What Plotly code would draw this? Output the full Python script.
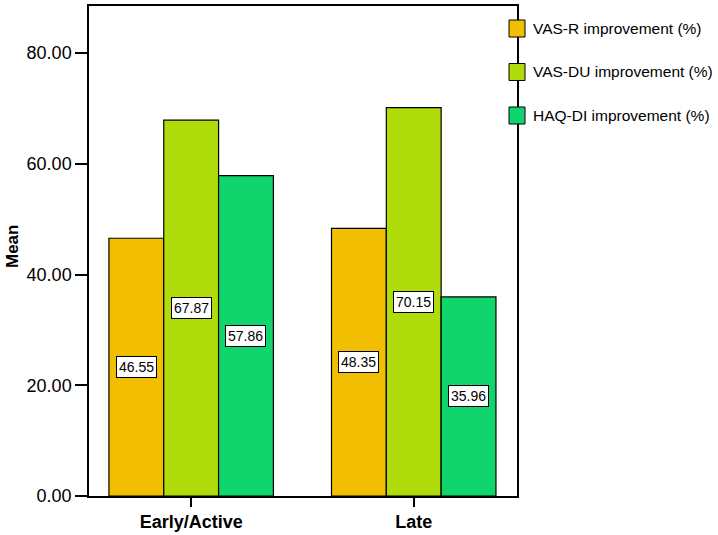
import plotly.graph_objects as go

categories = ["Early/Active", "Late"]
series_names = ["VAS-R improvement (%)", "VAS-DU improvement (%)", "HAQ-DI improvement (%)"]
vas_r = [46.55, 48.35]
vas_du = [67.87, 70.15]
haq_di = [57.86, 35.96]
series_values = [vas_r, vas_du, haq_di]
colors = ["#F1BE02", "#B1DC0B", "#10D46C"]
y_ticks = [0, 20, 40, 60, 80]

FONT = "Arial, Liberation Sans, sans-serif"
fig = go.Figure()
for name, vals, col in zip(series_names, series_values, colors):
    fig.add_trace(go.Bar(
        x=categories, y=vals, name=name,
        marker=dict(color=col, line=dict(color="black", width=1.2)),
        showlegend=False,
    ))

# layout numbers
x_range = [-0.459, 1.464]
plot_w_px = 718 - 89 - 201
plot_h_px = 490
px_per_unit = plot_w_px / (x_range[1] - x_range[0])
bargap = 0.261
bar_w_units = (1 - bargap) / len(series_names)

annotations = []
for i, vals in enumerate(series_values):
    shift = (i - 1) * bar_w_units * px_per_unit
    for c, v in zip(categories, vals):
        annotations.append(dict(
            x=c, y=v / 2, xref="x", yref="y", text=f"{v:.2f}", showarrow=False,
            xshift=shift, font=dict(family=FONT, size=14, color="black"),
            bgcolor="white", bordercolor="black", borderwidth=1, borderpad=2,
        ))

# custom legend
shapes = []
leg_y0 = 1 - (28.5 - 6) / plot_h_px
leg_step = 43.5 / plot_h_px
for i, (name, col) in enumerate(zip(series_names, colors)):
    yc = leg_y0 - i * leg_step
    shapes.append(dict(
        type="rect", xref="paper", yref="paper", layer="above",
        x0=1 - 8 / plot_w_px, x1=1 + 8 / plot_w_px,
        y0=yc - 8.5 / plot_h_px, y1=yc + 8.5 / plot_h_px,
        fillcolor=col, line=dict(color="black", width=1),
    ))
    annotations.append(dict(
        xref="paper", yref="paper", x=1 + 14 / plot_w_px, y=yc, xanchor="left",
        yanchor="middle", text=name, showarrow=False,
        font=dict(family=FONT, size=15.5, color="black"),
    ))

# y-axis title as annotation (keeps margins fixed)
annotations.append(dict(
    xref="paper", yref="paper", x=-(89 - 12) / plot_w_px, y=(496 - 247) / plot_h_px,
    text="<b>Mean</b>", textangle=-90, showarrow=False,
    xanchor="center", yanchor="middle",
    font=dict(family=FONT, size=17, color="black"),
))

fig.update_layout(
    width=718, height=535,
    margin=dict(l=89, r=201, t=6, b=39, autoexpand=False),
    paper_bgcolor="white", plot_bgcolor="white",
    barmode="group", bargap=bargap, bargroupgap=0,
    showlegend=False,
    font=dict(family=FONT, color="black"),
    xaxis=dict(
        range=x_range, showline=True, linecolor="black", linewidth=1.5, mirror=True,
        ticks="outside", ticklen=9, tickwidth=1.5, tickcolor="black",
        tickfont=dict(family=FONT, size=18, color="black"),
        ticklabelstandoff=0, automargin=False,
        showgrid=False, zeroline=False,
        tickvals=categories,
        ticktext=[f"<b>{c}</b>" for c in categories],
    ),
    yaxis=dict(
        range=[0, 88.5], showline=True, linecolor="black", linewidth=1.5, mirror=True,
        ticks="outside", ticklen=12, tickwidth=1.5, tickcolor="black",
        tickvals=y_ticks, tickformat=".2f", automargin=False,
        tickfont=dict(family=FONT, size=18, color="black"),
        showgrid=False, zeroline=False,
    ),
    annotations=annotations,
    shapes=shapes,
)

fig.write_html(
    "out.html",
    config={"displayModeBar": False, "responsive": False},
    post_script="document.body.style.margin='0';document.body.style.overflow='hidden';",
)
